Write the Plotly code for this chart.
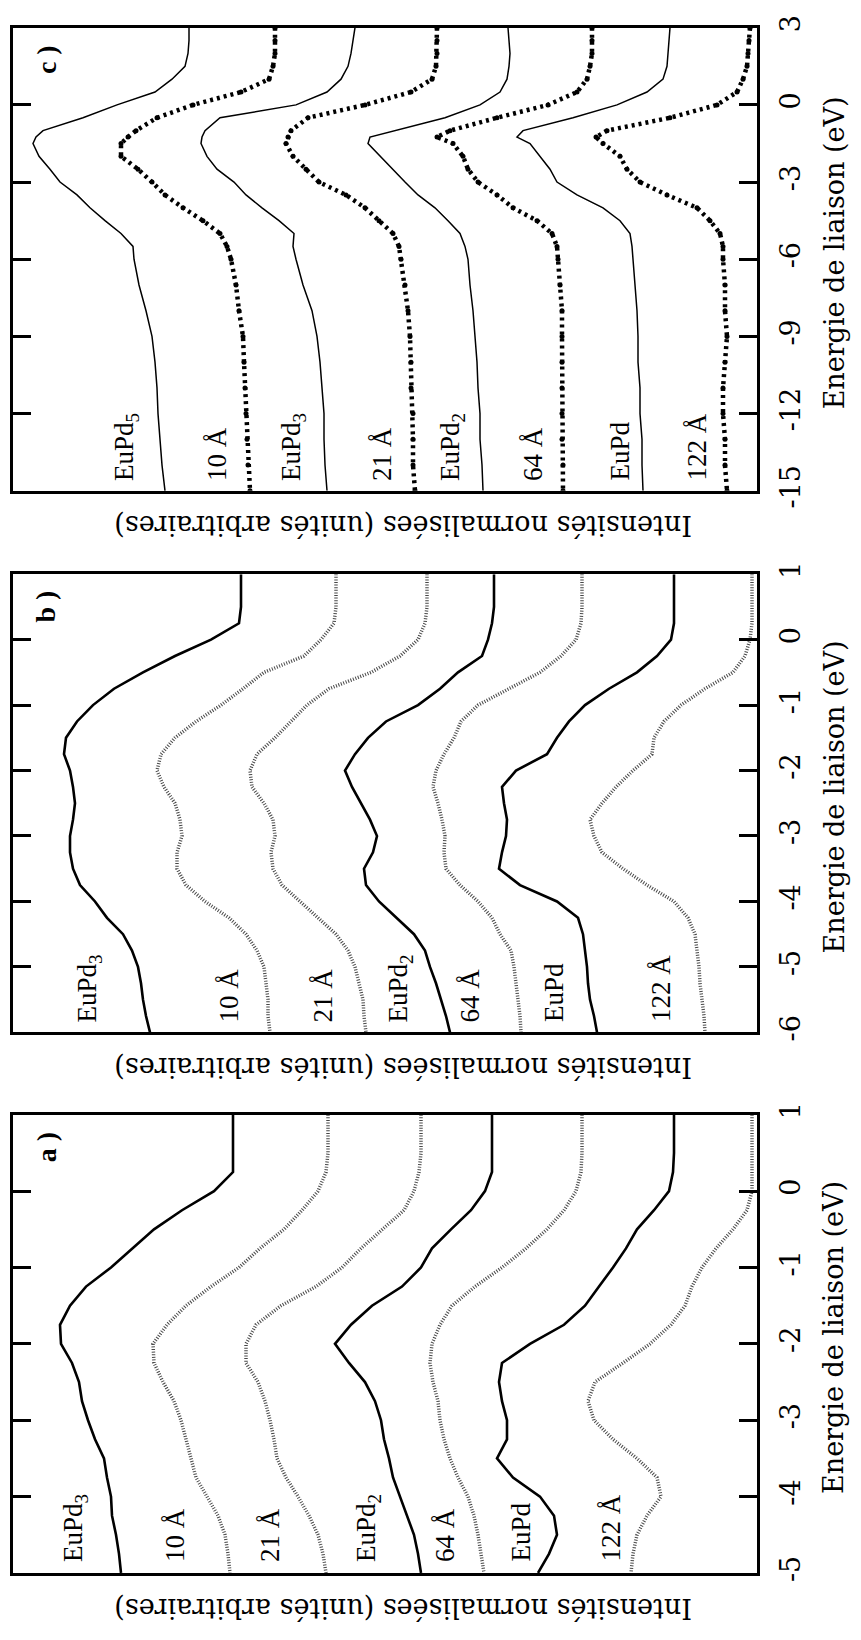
import plotly.graph_objects as go

W, H = 861, 1640

# ---------------- data (intensity in arbitrary units, offset-stacked) ----------------
# Panel c : binding energy grid (eV)
E_c = [3, 2.5, 2, 1.5, 1, 0.5, 0, -0.5, -1, -1.25, -1.5, -2, -2.5, -3, -3.5, -4, -4.5,
       -5, -5.5, -6, -7, -8, -9, -10, -11, -12, -13, -14, -15]
c_EuPd5 = [568, 568, 569, 572, 585, 602, 640, 674, 714, 721, 724, 718, 707, 697, 680, 667, 652,
           636, 624, 623, 618, 611, 605, 602, 600, 599, 597, 595, 592]
c_10A = [482, 482, 482, 484, 488, 516, 564, 600, 621, 629, 636, 636, 619, 605, 592, 574, 554,
         537, 530, 526, 521, 518, 514, 513, 512, 511, 510, 509, 507]
c_EuPd3 = [402, 404, 406, 409, 416, 430, 461, 537, 552, 555, 556, 550, 540, 523, 511, 495, 478,
           463, 464, 461, 454, 445, 440, 437, 435, 433, 433, 432, 430]
c_21A = [320, 320, 320, 321, 325, 346, 392, 449, 466, 469, 471, 464, 451, 438, 411, 392, 378,
         364, 358, 356, 352, 349, 347, 346, 346, 344, 344, 344, 342]
c_EuPd2 = [249, 248, 247, 248, 250, 257, 277, 312, 361, 387, 389, 377, 364, 352, 339, 322, 309,
           297, 292, 289, 287, 284, 282, 280, 279, 277, 277, 275, 274]
c_64A = [165, 165, 165, 167, 170, 180, 209, 260, 307, 320, 304, 294, 289, 279, 260, 244, 220,
         205, 200, 199, 197, 195, 195, 195, 195, 195, 195, 194, 194]
c_EuPd = [87, 88, 89, 90, 94, 110, 140, 184, 234, 240, 227, 217, 207, 200, 180, 154, 137,
          127, 125, 124, 122, 120, 119, 119, 117, 117, 115, 115, 114]
c_122A = [7, 8, 9, 10, 14, 20, 40, 87, 150, 161, 154, 137, 130, 117, 90, 60, 47,
          37, 34, 34, 32, 32, 30, 32, 34, 34, 32, 32, 30]

# Panel b
E_b = [1, 0.75, 0.5, 0.25, 0, -0.25, -0.5, -0.75, -1, -1.25, -1.5, -1.75, -2, -2.25, -2.5,
       -2.75, -3, -3.25, -3.5, -3.75, -4, -4.25, -4.5, -4.75, -5, -5.25, -5.5, -5.75, -6]
b_EuPd3 = [516, 516, 516, 518, 546, 582, 614, 643, 664, 680, 691, 693, 687, 684, 682,
           684, 687, 687, 684, 677, 662, 650, 634, 625, 619, 616, 614, 611, 607]
b_10A = [421, 421, 421, 423, 436, 453, 493, 514, 536, 561, 582, 596, 600, 593, 582,
         577, 575, 580, 580, 571, 552, 528, 511, 500, 493, 491, 489, 489, 487]
b_21A = [330, 330, 330, 332, 339, 357, 386, 428, 450, 466, 482, 500, 507, 505, 493,
         484, 482, 486, 484, 475, 457, 439, 421, 409, 402, 398, 394, 393, 391]
b_EuPd2 = [263, 263, 263, 265, 269, 275, 299, 317, 339, 371, 389, 402, 412, 405, 396,
           387, 380, 384, 393, 391, 378, 361, 343, 332, 327, 321, 316, 311, 307]
b_64A = [175, 175, 175, 176, 181, 196, 217, 248, 279, 296, 303, 313, 321, 324, 319,
         315, 312, 313, 311, 297, 279, 265, 257, 246, 243, 241, 239, 237, 236]
b_EuPd = [83, 83, 83, 83, 86, 100, 120, 148, 172, 188, 200, 210, 241, 255, 253,
          250, 251, 255, 258, 237, 200, 179, 174, 172, 170, 169, 167, 163, 160]
b_122A = [5, 5, 5, 5, 7, 12, 24, 52, 76, 93, 103, 105, 124, 141, 155,
          167, 163, 155, 134, 110, 83, 69, 62, 60, 58, 57, 55, 53, 52]

# Panel a
E_a = [1, 0.75, 0.5, 0.25, 0, -0.25, -0.5, -0.75, -1, -1.25, -1.5, -1.75, -2, -2.25, -2.5,
       -2.75, -3, -3.25, -3.5, -3.75, -4, -4.25, -4.5, -4.75, -5]
a_EuPd3 = [524, 524, 524, 524, 543, 575, 603, 624, 646, 671, 687, 697, 696, 685, 678,
           675, 669, 662, 653, 650, 646, 645, 641, 638, 636]
a_10A = [429, 429, 429, 431, 439, 455, 473, 497, 518, 546, 571, 590, 604, 603, 594,
         583, 576, 571, 566, 561, 550, 539, 532, 529, 527]
a_21A = [336, 336, 336, 338, 343, 353, 375, 396, 415, 441, 476, 501, 511, 511, 499,
         492, 487, 483, 480, 471, 459, 448, 439, 434, 431]
a_EuPd2 = [265, 265, 265, 265, 272, 286, 306, 325, 336, 355, 385, 406, 422, 408, 392,
           382, 376, 373, 368, 364, 357, 350, 343, 339, 336]
a_64A = [175, 175, 175, 176, 181, 193, 210, 231, 255, 282, 305, 317, 325, 327, 324,
         319, 317, 313, 307, 299, 289, 283, 279, 276, 273]
a_EuPd = [83, 83, 83, 84, 88, 103, 120, 131, 144, 158, 172, 193, 227, 255, 258,
          255, 250, 250, 260, 244, 217, 203, 200, 208, 219]
a_122A = [5, 5, 5, 5, 5, 10, 24, 41, 55, 65, 72, 86, 107, 134, 162,
          169, 163, 144, 120, 100, 96, 110, 120, 124, 126]

# tick values of the energy axes
ticks_c = [-15, -12, -9, -6, -3, 0, 3]
ticks_b = [-6, -5, -4, -3, -2, -1, 0, 1]
ticks_a = [-5, -4, -3, -2, -1, 0, 1]

# curve labels
names_c = ["EuPd<sub>5</sub>", "10 Å", "EuPd<sub>3</sub>", "21 Å", "EuPd<sub>2</sub>", "64 Å", "EuPd", "122 Å"]
names_ab = ["EuPd<sub>3</sub>", "10 Å", "21 Å", "EuPd<sub>2</sub>", "64 Å", "EuPd", "122 Å"]

# ---------------- figure ----------------
fig = go.Figure()

# panel geometry in pixels (left, right, top, bottom)
X0, X1 = 13, 757
panels = {
    "c": dict(top=15, bot=487, xa="x", ya="y", rng=[-15, 3], ticks=ticks_c),
    "b": dict(top=572, bot=1039, xa="x2", ya="y2", rng=[-6, 1], ticks=ticks_b),
    "a": dict(top=1123, bot=1590, xa="x3", ya="y3", rng=[-5, 1], ticks=ticks_a),
}

def px(x):
    return x / W

def py(y):
    return 1 - y / H

thin = dict(color="black", width=1.5)
thick = dict(color="black", width=2.6)
speck = dict(color="rgba(0,0,0,0.72)", width=3.5, dash="1px,1.6px")
bigdot = dict(color="black", width=4.5, dash="3px,4px")

def add(E, vals, p, style, markers=False):
    fig.add_trace(go.Scatter(
        x=vals, y=E, xaxis=panels[p]["xa"], yaxis=panels[p]["ya"],
        mode="lines+markers" if markers else "lines",
        line=style, marker=dict(size=5, color="black"),
        hoverinfo="skip", showlegend=False))

# panel c
for vals, st in zip([c_EuPd5, c_10A, c_EuPd3, c_21A, c_EuPd2, c_64A, c_EuPd, c_122A],
                    ["l", "d", "l", "d", "l", "d", "l", "d"]):
    if st == "l":
        add(E_c, vals, "c", thin)
    else:
        add(E_c, vals, "c", bigdot, markers=True)

# panel b
for vals, st in zip([b_EuPd3, b_10A, b_21A, b_EuPd2, b_64A, b_EuPd, b_122A],
                    ["l", "s", "s", "l", "s", "l", "s"]):
    add(E_b, vals, "b", thick if st == "l" else speck)

# panel a
for vals, st in zip([a_EuPd3, a_10A, a_21A, a_EuPd2, a_64A, a_EuPd, a_122A],
                    ["l", "s", "s", "l", "s", "l", "s"]):
    add(E_a, vals, "a", thick if st == "l" else speck)

axis_font = dict(family="DejaVu Serif", size=27, color="black")
label_font = dict(family="Liberation Serif", size=27, color="black")

layout = dict(
    width=W, height=H, margin=dict(l=0, r=0, t=0, b=0),
    paper_bgcolor="white", plot_bgcolor="white", showlegend=False,
)
for i, key in enumerate(["c", "b", "a"]):
    p = panels[key]
    sx = "" if i == 0 else str(i + 1)
    layout["xaxis" + sx] = dict(
        domain=[px(X0), px(X1)], range=[744, 0], anchor="y" + sx,
        showline=True, mirror=True, linecolor="black", linewidth=3,
        showticklabels=False, ticks="", showgrid=False, zeroline=False, fixedrange=True)
    layout["yaxis" + sx] = dict(
        domain=[py(p["bot"]), py(p["top"])], range=p["rng"], anchor="x" + sx,
        side="right", tickmode="array", tickvals=p["ticks"],
        ticktext=[str(t) for t in p["ticks"]],
        ticks="inside", ticklen=18, tickwidth=2.5, tickcolor="black",
        showline=True, mirror="ticks", linecolor="black", linewidth=3,
        tickangle=-90, tickfont=axis_font, ticklabelstandoff=8,
        showgrid=False, zeroline=False, fixedrange=True)
fig.update_layout(**layout)

ann = []
# axis titles
for key in ["c", "b", "a"]:
    p = panels[key]
    ymid = (p["top"] + p["bot"]) / 2
    ann.append(dict(x=px(834), y=py(ymid - 6), xref="paper", yref="paper",
                    text="Energie de liaison (eV)", textangle=-90, showarrow=False,
                    font=axis_font, xanchor="center", yanchor="middle"))
    ann.append(dict(x=px(403), y=py(p["bot"] + 36), xref="paper", yref="paper",
                    text="Intensités normalisées (unités arbitraires)", textangle=180,
                    showarrow=False, font=axis_font, xanchor="center", yanchor="middle"))
    ann.append(dict(x=px(46), y=py(p["top"] + 33), xref="paper", yref="paper",
                    text="<b>%s )</b>" % key, textangle=-90, showarrow=False,
                    font=dict(family="Liberation Serif", size=28, color="black"),
                    xanchor="center", yanchor="middle"))

# curve labels (pixel x-centres, bottom of text)
lab_c_x = [126, 217, 293, 382, 452, 533, 620, 697]
lab_b_x = [89, 229, 323, 400, 470, 554, 661]
lab_a_x = [75, 175, 270, 368, 445, 521, 611]
for names, xs, yb in [(names_c, lab_c_x, 479), (names_ab, lab_b_x, 1031), (names_ab, lab_a_x, 1581)]:
    for n, xx in zip(names, xs):
        ann.append(dict(x=px(xx), y=py(yb), xref="paper", yref="paper", text=n,
                        textangle=-90, showarrow=False, font=label_font,
                        xanchor="center", yanchor="bottom"))
fig.update_layout(annotations=ann)

fig.write_html("out.html", config={"displayModeBar": False},
               post_script="document.body.style.margin='0';")
